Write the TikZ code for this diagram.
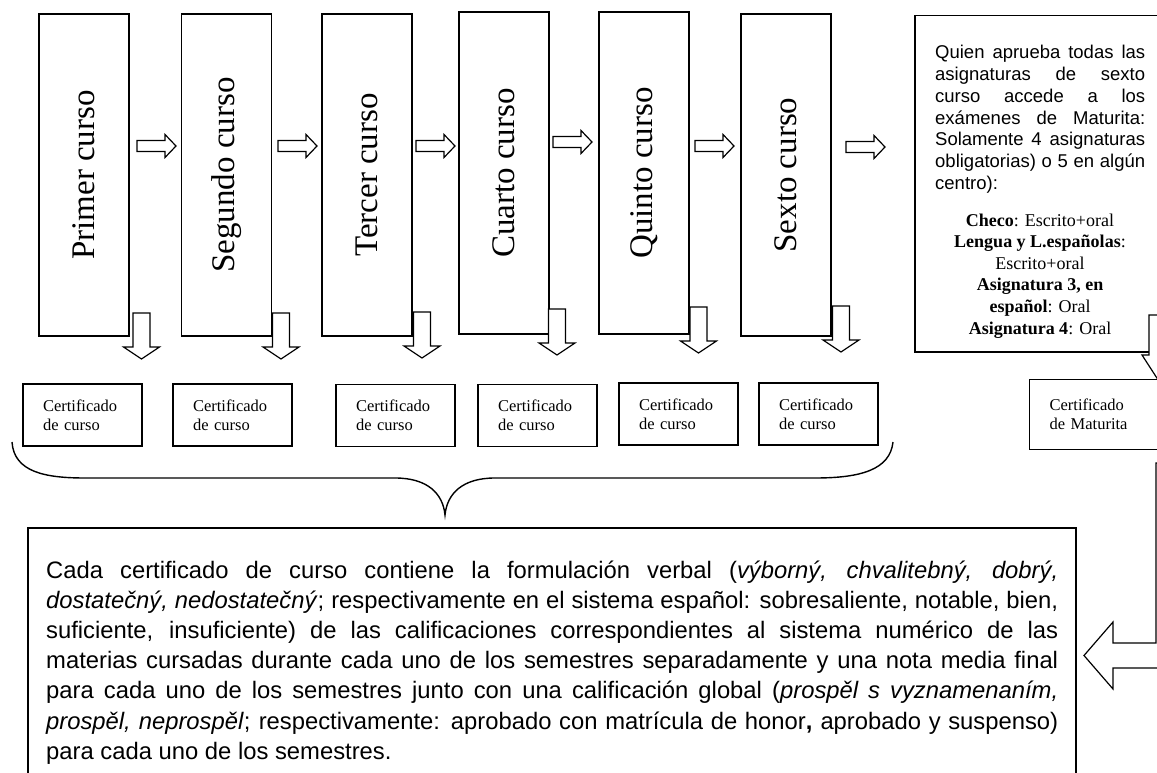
\documentclass[tikz,border=0pt]{standalone}
\usepackage{fontspec}
\usepackage{graphicx}
\setmainfont{Liberation Serif}
\newfontfamily\arialf{Liberation Sans}
\usetikzlibrary{calc}
\begin{document}
\begin{tikzpicture}[x=1pt,y=-1pt,
  tallbox/.style={draw, line width=1.5pt, minimum width=90pt, minimum height=322pt, inner sep=0pt, font=\fontsize{33}{38}\selectfont},
  certbox/.style={draw, line width=1.3pt, minimum height=62pt, text width=79pt, inner xsep=20pt, inner ysep=0pt, align=left, font=\fontsize{16.5}{19}\selectfont},
  blockarrow/.style={draw, line width=1.2pt, fill=white, line join=miter},
  bigbox/.style={draw, line width=1.5pt, anchor=north west, inner sep=0pt},
  pics/rarrow/.style={code={\draw[blockarrow] (0,-5.5) -- (28,-5.5) -- (28,-11.5) -- (39,0) -- (28,11.5) -- (28,5.5) -- (0,5.5) -- cycle;}},
  pics/darrow/.style={code={\draw[blockarrow] (-8.5,0) -- (-8.5,34) -- (-18,34) -- (0,46) -- (18,34) -- (8.5,34) -- (8.5,0) -- cycle;}},
]
\useasboundingbox (0,0) rectangle (1157,773);
\fill[white] (0,0) rectangle (1157,773);
\clip (0,0) rectangle (1157,773);

% course boxes
\node[tallbox] (b1) at (84,175) {\rotatebox{90}{Primer curso}};
\node[tallbox] (b2) at (226.5,175) {\rotatebox{90}{Segundo curso}};
\node[tallbox] (b3) at (367,175) {\rotatebox{90}{Tercer curso}};
\node[tallbox] (b4) at (504,173) {\rotatebox{90}{Cuarto curso}};
\node[tallbox] (b5) at (644,173) {\rotatebox{90}{Quinto curso}};
\node[tallbox] (b6) at (786,175) {\rotatebox{90}{Sexto curso}};

% right arrows
\pic at (137,146) {rarrow};
\pic at (278,146) {rarrow};
\pic at (416,146) {rarrow};
\pic at (553,142) {rarrow};
\pic at (695,146) {rarrow};
\pic at (846,147) {rarrow};

% down arrows
\pic at (141.5,313) {darrow};
\pic at (281,313) {darrow};
\pic at (422,312) {darrow};
\pic at (557,309) {darrow};
\pic at (698.5,307) {darrow};
\pic at (841,306) {darrow};

% certificate boxes
\node[certbox] (c1) at (82.5,415) {Certificado\\de curso};
\node[certbox] (c2) at (232.5,415) {Certificado\\de curso};
\node[certbox] (c3) at (395.5,415.5) {Certificado\\de curso};
\node[certbox] (c4) at (537.5,415.5) {Certificado\\de curso};
\node[certbox] (c5) at (678.5,414) {Certificado\\de curso};
\node[certbox] (c6) at (818.5,414) {Certificado\\de curso};

% exam box
\node[bigbox, minimum width=290pt, minimum height=336pt] (exam) at (914,15) {};
\node[anchor=base west, inner sep=0pt] (examtxt) at (935,59) {\parbox[t]{210pt}{\arialf\fontsize{18.5}{21.7}\selectfont\noindent
\makebox[210pt][s]{Quien aprueba todas las}\\
\makebox[210pt][s]{asignaturas de sexto}\\
\makebox[210pt][s]{curso accede a los}\\
\makebox[210pt][s]{exámenes de Maturita:}\\
\makebox[210pt][s]{Solamente 4 asignaturas}\\
\makebox[210pt][s]{obligatorias) o 5 en algún}\\
centro):}};
\node[anchor=base, inner sep=0pt] (examsub) at (1040,226) {\parbox[t]{240pt}{\centering\fontsize{18}{21.6}\selectfont
\textbf{Checo}: Escrito+oral\\
\textbf{Lengua y L.españolas}:\\
Escrito+oral\\
\textbf{Asignatura 3, en}\\
\textbf{español}: Oral\\
\textbf{Asignatura 4}: Oral}};

% arrow exam -> maturita
\draw[blockarrow] (1149,315) -- (1149,355) -- (1142,355) -- (1164,389) -- (1186,355) -- (1179,355) -- (1179,315) -- cycle;

% maturita certificate
\node[draw, line width=1.3pt, anchor=north west, minimum width=160pt, minimum height=70pt, text width=120pt, inner xsep=20pt, inner ysep=0pt, align=left, font=\fontsize{16.5}{19}\selectfont] (mat) at (1029,379) {Certificado\\de Maturita};

% bent arrow maturita -> summary
\draw[blockarrow] (1156,463) -- (1156,643) -- (1113,643) -- (1113,622) -- (1084,655.5) -- (1113,689) -- (1113,668) -- (1200,668) -- (1200,463) -- cycle;

% brace
\coordinate (brL) at (12,442);
\coordinate (brTip) at (445,515);
\coordinate (brR) at (893,442);
\draw[line width=1.4pt] (brL) .. controls (14,472) and (45,478) .. (85,478) -- (395,478) .. controls (428,478) and (443,494) .. (brTip) .. controls (447,494) and (462,478) .. (495,478) -- (815,478) .. controls (860,478) and (890,470) .. (brR);

% summary box
\node[bigbox, minimum width=1048pt, minimum height=290pt] (summary) at (27,527) {};
\node[anchor=base west, inner sep=0pt] (sumtxt) at (46,578) {\parbox[t]{1012pt}{\arialf\fontsize{23.8}{30.2}\selectfont\noindent
\makebox[1012pt][s]{Cada certificado de curso contiene la formulación verbal (\textit{výborný, chvalitebný, dobrý,}}\\
\makebox[1012pt][s]{\textit{dostatečný, nedostatečný}; respectivamente en el sistema español: sobresaliente, notable, bien,}\\
\makebox[1012pt][s]{suficiente, insuficiente) de las calificaciones correspondientes al sistema numérico de las}\\
\makebox[1012pt][s]{materias cursadas durante cada uno de los semestres separadamente y una nota media final}\\
\makebox[1012pt][s]{para cada uno de los semestres junto con una calificación global (\textit{prospěl s vyznamenaním,}}\\
\makebox[1012pt][s]{\textit{prospěl, neprospěl}; respectivamente: aprobado con matrícula de honor\textbf{,} aprobado y suspenso)}\\
para cada uno de los semestres.}};
\end{tikzpicture}
\end{document}
